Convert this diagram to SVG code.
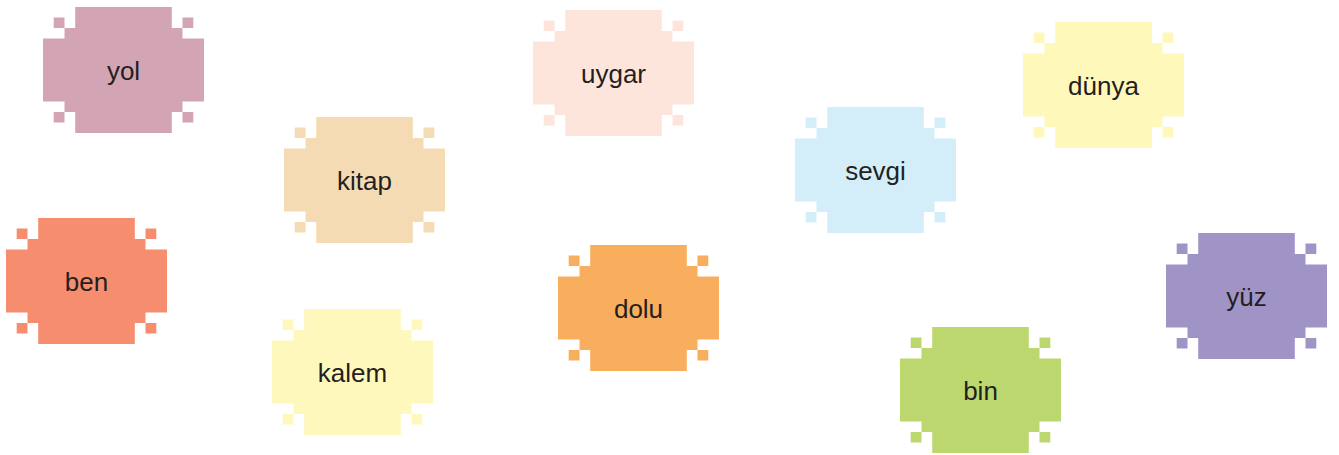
<svg xmlns="http://www.w3.org/2000/svg" xmlns:xlink="http://www.w3.org/1999/xlink" width="1339" height="455" viewBox="0 0 1339 455">
<style>
text{font-family:"Liberation Sans",Arial,sans-serif;font-size:26px;fill:#231f20;text-anchor:middle}
</style>
<defs>
<path id="blob" d="M32.2,0H128.8V21H139.5V31.5H161V94.5H139.5V105H128.8V126H32.2V105H21.5V94.5H0V31.5H21.5V21H32.2Z M10.7,10.5H21.5V21H10.7Z M139.5,10.5H150.3V21H139.5Z M10.7,105H21.5V115.5H10.7Z M139.5,105H150.3V115.5H139.5Z"/>
</defs>
<rect width="1339" height="455" fill="#ffffff"/>
<g id="connectors"/>
<g id="node-yol" transform="translate(43,7)"><use xlink:href="#blob" href="#blob" fill="#d3a5b4"/><text x="80.5" y="73">yol</text></g>
<g id="node-ben" transform="translate(6,218)"><use xlink:href="#blob" href="#blob" fill="#f68d6f"/><text x="80.5" y="73">ben</text></g>
<g id="node-kitap" transform="translate(284,117)"><use xlink:href="#blob" href="#blob" fill="#f5dbb3"/><text x="80.5" y="73">kitap</text></g>
<g id="node-kalem" transform="translate(272,309)"><use xlink:href="#blob" href="#blob" fill="#fff8bc"/><text x="80.5" y="73">kalem</text></g>
<g id="node-uygar" transform="translate(533,10)"><use xlink:href="#blob" href="#blob" fill="#fde5dc"/><text x="80.5" y="73">uygar</text></g>
<g id="node-dolu" transform="translate(558,245)"><use xlink:href="#blob" href="#blob" fill="#f9ae5d"/><text x="80.5" y="73">dolu</text></g>
<g id="node-sevgi" transform="translate(795,107)"><use xlink:href="#blob" href="#blob" fill="#d3eef9"/><text x="80.5" y="73">sevgi</text></g>
<g id="node-dunya" transform="translate(1023,22)"><use xlink:href="#blob" href="#blob" fill="#fff8bb"/><text x="80.5" y="73">dünya</text></g>
<g id="node-bin" transform="translate(900,327)"><use xlink:href="#blob" href="#blob" fill="#bdd76f"/><text x="80.5" y="73">bin</text></g>
<g id="node-yuz" transform="translate(1166,233)"><use xlink:href="#blob" href="#blob" fill="#a094c7"/><text x="80.5" y="73">yüz</text></g>
</svg>
